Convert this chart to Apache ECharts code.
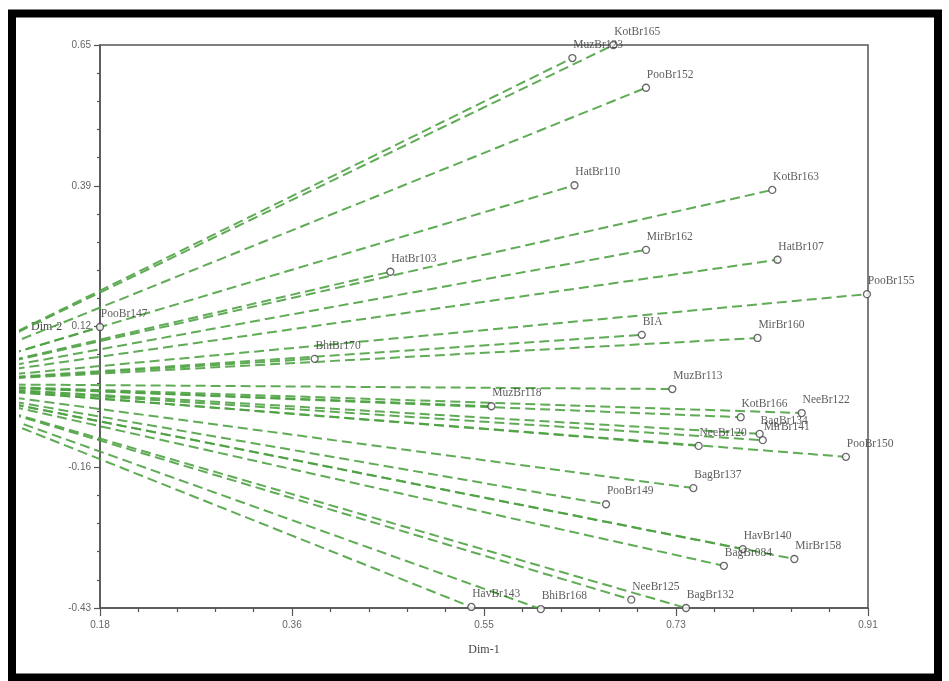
<!DOCTYPE html>
<html>
<head>
<meta charset="utf-8">
<script src="https://cdn.jsdelivr.net/npm/echarts@6/dist/echarts.min.js"></script>
<style>
html,body{margin:0;padding:0;background:#fff;}
#chart{width:949px;height:681px;}
</style>
</head>
<body>
<div id="chart"></div>
<script>
const names = ['KotBr165','MuzBr123','PooBr152','HatBr110','KotBr163','MirBr162','HatBr107','HatBr103','PooBr155','PooBr147','BIA','MirBr160','BhiBr170','MuzBr113','MuzBr118','KotBr166','NeeBr122','BagBr134','MirBr141','NeeBr120','PooBr150','BagBr137','PooBr149','HavBr140','MirBr158','BagBr084','NeeBr125','BagBr132','HavBr143','BhiBr168'];
const dim1 = [0.668,0.629,0.699,0.631,0.819,0.699,0.824,0.456,0.909,0.180,0.695,0.805,0.384,0.724,0.552,0.789,0.847,0.807,0.810,0.749,0.889,0.744,0.661,0.791,0.840,0.773,0.685,0.737,0.533,0.599];
const dim2 = [0.650,0.625,0.568,0.381,0.372,0.257,0.238,0.215,0.172,0.109,0.094,0.088,0.048,-0.010,-0.043,-0.064,-0.056,-0.096,-0.108,-0.119,-0.140,-0.200,-0.231,-0.317,-0.336,-0.349,-0.414,-0.430,-0.428,-0.432];
const origin = [0, 0];

const xTickValues = [0.18, 0.3625, 0.545, 0.7275, 0.91];
const xTickLabels = ['0.18', '0.36', '0.55', '0.73', '0.91'];
const yTickValues = [-0.43, -0.16, 0.11, 0.38, 0.65];
const yTickLabels = ['-0.43', '-0.16', '0.12', '0.39', '0.65'];
const minorPerMajor = 5;

function minors(vals) {
  const out = [];
  for (let i = 0; i < vals.length - 1; i++) {
    const step = (vals[i + 1] - vals[i]) / minorPerMajor;
    for (let k = 1; k < minorPerMajor; k++) out.push(vals[i] + step * k);
  }
  return out;
}
function labelFor(vals, labels) {
  return function (v) {
    let best = 0;
    for (let i = 1; i < vals.length; i++) if (Math.abs(vals[i] - v) < Math.abs(vals[best] - v)) best = i;
    return labels[best];
  };
}

const axisColor = '#555';
const tickFont = { fontFamily: 'Liberation Sans Narrow, Liberation Sans, sans-serif', fontSize: 10, color: '#666' };

const vectorSeries = {
  type: 'custom',
  name: 'vectors',
  clip: false,
  silent: true,
  z: 2,
  data: names.map((n, i) => [dim1[i], dim2[i]]),
  renderItem: function (params, api) {
    const p0 = api.coord(origin);
    const p1 = api.coord([api.value(0), api.value(1)]);
    return {
      type: 'line',
      shape: { x1: p0[0], y1: p0[1], x2: p1[0], y2: p1[1] },
      style: { stroke: '#4fa244', lineWidth: 2, lineDash: [10, 5], opacity: 0.9, fill: null }
    };
  }
};

const pointSeries = {
  type: 'scatter',
  data: names.map((n, i) => ({ name: n, value: [dim1[i], dim2[i]] })),
  symbol: 'circle',
  symbolSize: 7,
  clip: false,
  z: 5,
  itemStyle: { color: '#fff', borderColor: '#444', borderWidth: 1.3 },
  label: {
    show: true,
    formatter: p => p.name,
    position: [5, -15],
    fontFamily: 'Liberation Serif, serif',
    fontSize: 11.5,
    color: '#333'
  }
};

const chart = echarts.init(document.getElementById('chart'), null, { renderer: 'canvas' });
chart.setOption({
  backgroundColor: '#fff',
  animation: false,
  grid: { left: 100, top: 45, right: 81, bottom: 73, show: true, borderColor: axisColor, borderWidth: 1.5, backgroundColor: 'transparent' },
  xAxis: [{
    type: 'value', min: 0.18, max: 0.91, position: 'bottom',
    name: 'Dim-1', nameLocation: 'middle', nameGap: 36,
    nameTextStyle: { fontFamily: 'Liberation Serif, serif', fontSize: 12, color: '#444' },
    axisLine: { show: true, onZero: false, lineStyle: { color: axisColor, width: 1.5 } },
    axisTick: { show: true, customValues: xTickValues, length: 8, lineStyle: { color: axisColor, width: 1.2 } },
    axisLabel: { show: true, customValues: xTickValues, formatter: labelFor(xTickValues, xTickLabels), margin: 12, ...tickFont },
    splitLine: { show: false }
  }, {
    type: 'value', min: 0.18, max: 0.91, position: 'bottom',
    axisLine: { show: false, onZero: false },
    axisTick: { show: true, customValues: minors(xTickValues), length: 4, lineStyle: { color: axisColor, width: 1.2 } },
    axisLabel: { show: false },
    splitLine: { show: false }
  }],
  yAxis: [{
    type: 'value', min: -0.43, max: 0.65, position: 'left',
    name: 'Dim-2', nameLocation: 'middle', nameGap: 30, nameRotate: 0,
    nameTextStyle: { fontFamily: 'Liberation Serif, serif', fontSize: 12, color: '#444' },
    axisLine: { show: true, onZero: false, lineStyle: { color: axisColor, width: 1.5 } },
    axisTick: { show: true, customValues: yTickValues, length: 6, lineStyle: { color: axisColor, width: 1.2 } },
    axisLabel: { show: true, customValues: yTickValues, formatter: labelFor(yTickValues, yTickLabels), margin: 9, ...tickFont },
    splitLine: { show: false }
  }, {
    type: 'value', min: -0.43, max: 0.65, position: 'left',
    axisLine: { show: false, onZero: false },
    axisTick: { show: true, customValues: minors(yTickValues), length: 3, lineStyle: { color: axisColor, width: 1.2 } },
    axisLabel: { show: false },
    splitLine: { show: false }
  }],
  series: [vectorSeries, pointSeries],
  graphic: [
    { type: 'rect', z: 100, shape: { x: 0, y: 0, width: 19, height: 681 }, style: { fill: '#fff' } },
    { type: 'rect', z: 101, shape: { x: 12, y: 13.5, width: 926, height: 664 }, style: { fill: null, stroke: '#000', lineWidth: 8 } }
  ]
});
</script>
</body>
</html>
